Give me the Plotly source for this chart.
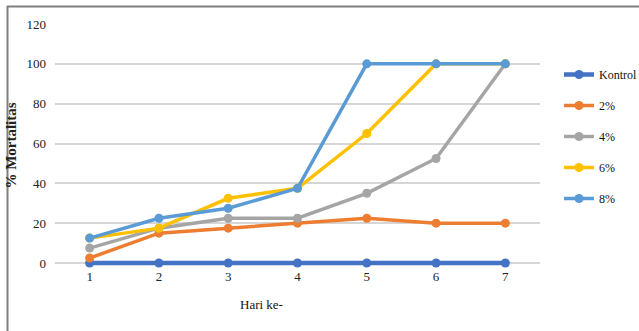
import plotly.graph_objects as go

days = [1, 2, 3, 4, 5, 6, 7]
series_names = ["Kontrol", "2%", "4%", "6%", "8%"]
kontrol = [0, 0, 0, 0, 0, 0, 0]
p2 = [2.5, 15, 17.5, 20, 22.5, 20, 20]
p4 = [7.5, 17.5, 22.5, 22.5, 35, 52.5, 100]
p6 = [12.5, 17.5, 32.5, 37.5, 65, 100, 100]
p8 = [12.5, 22.5, 27.5, 37.5, 100, 100, 100]
y_ticks = [0, 20, 40, 60, 80, 100, 120]
colors = ["#4472C4", "#ED7D31", "#A5A5A5", "#FFC000", "#5B9BD5"]
widths = [4.5, 3.5, 3.5, 3.5, 3.5]

fig = go.Figure()
for name, vals, c, w in zip(series_names, [kontrol, p2, p4, p6, p8], colors, widths):
    fig.add_trace(go.Scatter(
        x=days, y=vals, name=name, mode="lines+markers",
        line=dict(color=c, width=w), marker=dict(color=c, size=9),
        legendgroup=name, cliponaxis=False,
    ))

font = "Liberation Serif"
W, H = 639, 331
L, R, T, B = 55, 99, 24, 64
pw, ph = W - L - R, H - T - B

def px_x(px):
    return (px - L) / pw

def px_y(py):
    return (H - B - py) / ph

fig.update_layout(
    width=W, height=H,
    margin=dict(l=L, r=R, t=T, b=B, autoexpand=False),
    paper_bgcolor="white", plot_bgcolor="white",
    font=dict(family=font, size=13, color="#222"),
    showlegend=True,
    legend=dict(xref="container", yref="container", x=559 / W, y=1 - 60 / H,
                xanchor="left", yanchor="top",
                font=dict(family=font, size=12, color="#111"),
                tracegroupgap=12, itemwidth=30, bgcolor="rgba(0,0,0,0)"),
    xaxis=dict(range=[0.5, 7.5], tickvals=days, showgrid=False, zeroline=False,
               showline=False, ticks="", tickfont=dict(size=13), automargin=False),
    yaxis=dict(range=[-2, 120], tickvals=y_ticks, showgrid=True, gridcolor="#d6d6d6",
               gridwidth=1.5, zeroline=False, showline=False, ticks="",
               tickfont=dict(size=13), ticklabelstandoff=8, automargin=False,
               title=dict(text="<b>% Mortalitas</b>", font=dict(family=font, size=15), standoff=6)),
    annotations=[dict(text="Hari ke-", xref="paper", yref="paper", x=px_x(261), y=px_y(314),
                      showarrow=False, font=dict(family=font, size=13, color="#111"))],
    shapes=[
        dict(type="line", xref="paper", yref="paper", x0=px_x(7), x1=px_x(700), y0=px_y(6.5), y1=px_y(6.5),
             line=dict(color="#7f7f7f", width=2)),
        dict(type="line", xref="paper", yref="paper", x0=px_x(7.5), x1=px_x(7.5), y0=px_y(6), y1=px_y(400),
             line=dict(color="#7f7f7f", width=2)),
    ],
)

fig.write_html("out.html", config={"displayModeBar": False},
               post_script="document.body.style.margin='0';")
